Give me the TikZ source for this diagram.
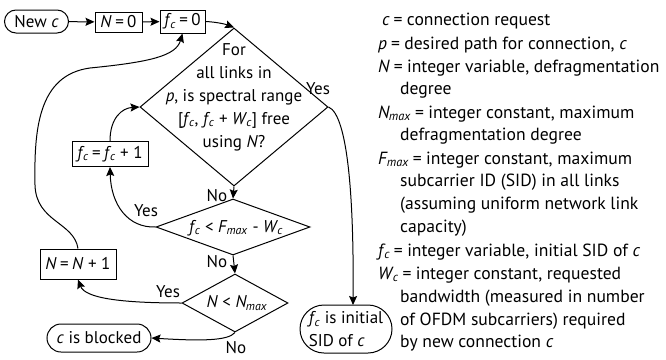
\documentclass[tikz,border=0pt]{standalone}
\usepackage{fontspec}
\setmainfont{PT Sans}
\usetikzlibrary{shapes.geometric,shapes.misc,arrows.meta}
\newcommand{\fc}{\textit{f}\kern-0.5pt\textsubscript{\kern-1pt\textit{c}}}
\newcommand{\Wc}{\textit{W}\textsubscript{\kern-1pt\textit{c}}}
\newcommand{\Nmax}{\textit{N}\textsubscript{\kern-1pt\textit{max}}}
\newcommand{\Fmax}{\textit{F}\textsubscript{\kern-1pt\textit{max}}}
\newcommand{\eqs}{\hspace{0.2em}=\hspace{0.2em}}
\newcommand{\eql}{\hspace{0.22em}=\hspace{0.25em}}
\begin{document}
\begin{tikzpicture}[x=1pt,y=-1pt,
  every node/.style={font=\fontsize{17}{23}\selectfont, inner sep=0pt},
  box/.style={draw, line width=1pt, rectangle},
  term/.style={draw, line width=1pt, rounded rectangle},
  dia/.style={draw, line width=1pt, diamond},
  conn/.style={line width=1pt, -{Stealth[length=9pt,width=8pt,inset=1.5pt]}},
  lbl/.style={anchor=center},
  leg/.style={anchor=base west, font=\fontsize{17.6}{23}\selectfont}]
\useasboundingbox (0,0) rectangle (666,359);
% boxes
\node[term, minimum width=64pt, minimum height=23pt] (new) at (36.5,21.5) {New \textit{c}};
\node[box, minimum width=47pt, minimum height=20pt] (n0) at (118.5,22) {\textit{N}\eqs 0};
\node[box, minimum width=45pt, minimum height=23pt] (f0) at (182.5,21.5) {\fc\eqs 0};
\node[dia, minimum width=188pt, minimum height=158pt] (d1) at (234,107) {};
\node[align=center] (d1t) at (234,97) {For\\all links in\\\textit{p}, is spectral range\\{}[\fc, \fc\ + \Wc] free\\using \textit{N}?};
\node[dia, minimum width=154pt, minimum height=56pt] (d2) at (233,227) {};
\node (d2t) at (236,228) {\fc\ < \Fmax\ - \Wc};
\node[dia, minimum width=106pt, minimum height=58pt] (d3) at (235,303) {};
\node (d3t) at (237,303) {\textit{N} < \Nmax};
\node[box, minimum width=76pt, minimum height=25pt] (fp1) at (110,154) {\fc\eqs\fc\ + 1};
\node[box, minimum width=76pt, minimum height=30pt] (nn1) at (78,264) {\textit{N}\eqs\textit{N} + 1};
\node[term, minimum width=104pt, minimum height=28pt] (blk) at (99,338) {\textit{c} is blocked};
\node[term, minimum width=92pt, minimum height=48pt, align=left] (fin) at (346,329) {\fc\ is initial\\SID of \textit{c}};
% connectors
\draw[conn] (new) -- (n0);
\draw[conn] (n0) -- (f0);
\draw[conn] (f0.east) .. controls (216,22) and (225,24) .. (d1.north);
\draw[conn] (nn1.north) .. controls (74,222) and (36,222) .. (35,185) .. controls (34,130) and (38,75) .. (90,68) .. controls (150,62) and (176,56) .. (f0.south);
\draw[conn] (fp1.north) .. controls (110,118) and (122,108) .. (d1.west);
\draw[conn] (d2.west) .. controls (128,228) and (111,205) .. (fp1.south);
\draw[conn] (d1.south) -- (d2.north);
\draw[conn] (d2.south) -- (d3.north);
\draw[conn] (d3.west) .. controls (120,303) and (85,298) .. (nn1.south);
\draw[conn] (d3.south) .. controls (228,341) and (200,341) .. (blk.east);
\coordinate (finin) at (353,305);
\draw[conn] (d1.east) .. controls (348,115) and (354,200) .. (finin);
% labels
\node[lbl] (l1) at (217,196) {No};
\node[lbl] (l2) at (217,262) {No};
\node[lbl] (l3) at (146,211) {Yes};
\node[lbl] (l4) at (168,292) {Yes};
\node[lbl] (l5) at (236,348) {No};
\node[lbl] (l6) at (318,89) {Yes};
% legend
\node[leg] (g1) at (382,25) {\textit{c}\eql connection request};
\node[leg] (g2) at (378,49) {\textit{p}\eql desired path for connection, \textit{c}};
\node[leg] (g3) at (378,72) {\textit{N}\eql integer variable, defragmentation};
\node[leg] (g4) at (400,94) {degree};
\node[leg] (g5) at (378,118) {\Nmax\eql integer constant, maximum};
\node[leg] (g6) at (400,140) {defragmentation degree};
\node[leg] (g7) at (378,164) {\Fmax\eql integer constant, maximum};
\node[leg] (g8) at (400,186) {subcarrier ID (SID) in all links};
\node[leg] (g9) at (400,209) {(assuming uniform network link};
\node[leg] (g10) at (400,232) {capacity)};
\node[leg] (g11) at (378,256) {\fc\eql integer variable, initial SID of \textit{c}};
\node[leg] (g12) at (378,279) {\Wc\eql integer constant, requested};
\node[leg] (g13) at (400,302) {bandwidth (measured in number};
\node[leg] (g14) at (400,325) {of OFDM subcarriers) required};
\node[leg] (g15) at (400,347) {by new connection \textit{c}};
\end{tikzpicture}
\end{document}
